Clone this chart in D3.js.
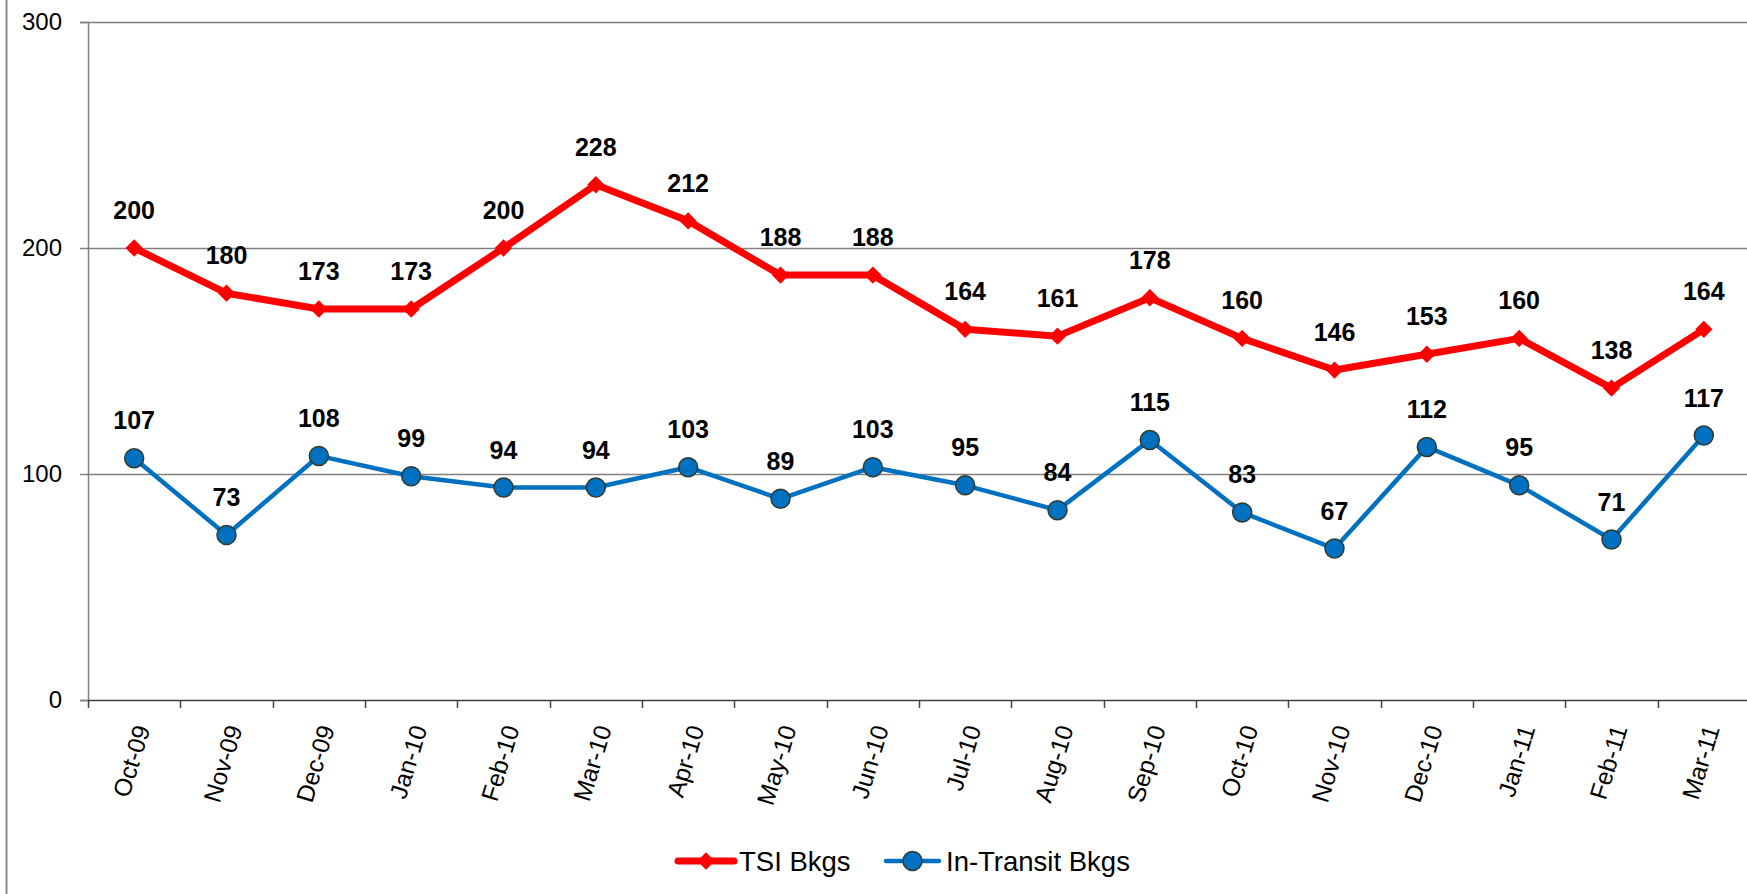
<!DOCTYPE html>
<html>
<head>
<meta charset="utf-8">
<script src="https://cdn.jsdelivr.net/npm/d3@7"></script>
<style>
  body { margin: 0; background: #fff; }
  text { font-family: Arial, "Liberation Sans", sans-serif; }
</style>
</head>
<body>
<svg id="chart" width="1747" height="894"></svg>
<script>
var months = ["Oct-09", "Nov-09", "Dec-09", "Jan-10", "Feb-10", "Mar-10", "Apr-10", "May-10", "Jun-10",
  "Jul-10", "Aug-10", "Sep-10", "Oct-10", "Nov-10", "Dec-10", "Jan-11", "Feb-11", "Mar-11"];
var tsiBkgs = [200, 180, 173, 173, 200, 228, 212, 188, 188, 164, 161, 178, 160, 146, 153, 160, 138, 164];
var transitBkgs = [107, 73, 108, 99, 94, 94, 103, 89, 103, 95, 84, 115, 83, 67, 112, 95, 71, 117];
var yTicks = [0, 100, 200, 300];
var seriesNames = ["TSI Bkgs", "In-Transit Bkgs"];

var svg = d3.select("#chart");

// plot area
var plotLeft = 88, plotRight = 1750, plotTop = 22, plotBottom = 700;

var x = d3.scaleBand().domain(months).range([plotLeft, plotRight]);
var y = d3.scaleLinear().domain([0, 300]).range([plotBottom, plotTop]);

// outer frame line on the left
svg.append("line")
  .attr("x1", 6.5).attr("x2", 6.5).attr("y1", 0).attr("y2", 894)
  .attr("stroke", "#8c8c8c").attr("stroke-width", 2);

// gridlines
svg.append("g").selectAll("line").data(yTicks.filter(function (d) { return d > 0; }))
  .enter().append("line")
  .attr("x1", plotLeft).attr("x2", plotRight)
  .attr("y1", function (d) { return Math.round(y(d)) + 0.5; })
  .attr("y2", function (d) { return Math.round(y(d)) + 0.5; })
  .attr("stroke", "#808080").attr("stroke-width", 1.5);

// axis y
var yAxis = d3.axisLeft(y).tickValues(yTicks).tickSize(8).tickPadding(18);
var gy = svg.append("g").attr("transform", "translate(" + plotLeft + ",0)").call(yAxis);
gy.select(".domain").attr("stroke", "#808080").attr("stroke-width", 1.5);
gy.selectAll(".tick line").attr("stroke", "#808080").attr("stroke-width", 1.5);
gy.selectAll("text").attr("font-size", 24).attr("fill", "#000")
  .style("font-family", "Arial, 'Liberation Sans', sans-serif");

// axis x
var xAxis = d3.axisBottom(x).tickSize(0).tickFormat("");
var gx = svg.append("g").attr("transform", "translate(0," + plotBottom + ")").call(xAxis);
gx.select(".domain").attr("stroke", "#404040").attr("stroke-width", 1.5);
gx.selectAll(".tick").remove();

// category boundary ticks
svg.append("g").selectAll("line").data(months)
  .enter().append("line")
  .attr("x1", function (d) { return Math.round(x(d)) + 0.5; })
  .attr("x2", function (d) { return Math.round(x(d)) + 0.5; })
  .attr("y1", plotBottom).attr("y2", plotBottom + 8)
  .attr("stroke", "#404040").attr("stroke-width", 1.5);

// x labels, slanted
svg.append("g").selectAll("text").data(months)
  .enter().append("text")
  .attr("transform", function (d) {
    return "translate(" + (x(d) + x.bandwidth() / 2 + 8) + "," + (plotBottom + 26) + ") rotate(-73)";
  })
  .attr("text-anchor", "end")
  .attr("dy", "0.35em")
  .attr("font-size", 24.5)
  .text(function (d) { return d; });

var cx = function (d, i) { return x(months[i]) + x.bandwidth() / 2; };

var line = d3.line()
  .x(function (d, i) { return cx(d, i); })
  .y(function (d) { return y(d); });

// TSI series
svg.append("path").datum(tsiBkgs)
  .attr("d", line).attr("fill", "none")
  .attr("stroke", "#ff0000").attr("stroke-width", 7).attr("stroke-linejoin", "round");

var diamond = d3.symbol().type(d3.symbolSquare).size(150);
svg.append("g").selectAll("path").data(tsiBkgs)
  .enter().append("path")
  .attr("d", diamond)
  .attr("transform", function (d, i) { return "translate(" + cx(d, i) + "," + y(d) + ") rotate(45)"; })
  .attr("fill", "#ff0000");

// In-Transit series
svg.append("path").datum(transitBkgs)
  .attr("d", line).attr("fill", "none")
  .attr("stroke", "#0070c0").attr("stroke-width", 4.5).attr("stroke-linejoin", "round");

svg.append("g").selectAll("circle").data(transitBkgs)
  .enter().append("circle")
  .attr("cx", function (d, i) { return cx(d, i); })
  .attr("cy", function (d) { return y(d); })
  .attr("r", 9.5)
  .attr("fill", "#0070c0").attr("stroke", "#2f3b2f").attr("stroke-width", 1.5);

// data labels
[tsiBkgs, transitBkgs].forEach(function (series) {
  svg.append("g").selectAll("text").data(series)
    .enter().append("text")
    .attr("x", function (d, i) { return cx(d, i); })
    .attr("y", function (d) { return y(d) - 29; })
    .attr("text-anchor", "middle")
    .attr("font-size", 25)
    .attr("font-weight", "bold")
    .text(function (d) { return d; });
});

// legend
var legY = 861;
var leg = svg.append("g");
leg.append("line").attr("x1", 678).attr("x2", 734).attr("y1", legY).attr("y2", legY)
  .attr("stroke", "#ff0000").attr("stroke-width", 7).attr("stroke-linecap", "round");
leg.append("path").attr("d", diamond)
  .attr("transform", "translate(706," + legY + ") rotate(45)").attr("fill", "#ff0000");
leg.append("text").attr("x", 739).attr("y", legY).attr("dy", "0.36em")
  .attr("font-size", 27.5).text(seriesNames[0]);

leg.append("line").attr("x1", 886).attr("x2", 939).attr("y1", legY).attr("y2", legY)
  .attr("stroke", "#0070c0").attr("stroke-width", 4.5).attr("stroke-linecap", "round");
leg.append("circle").attr("cx", 912.5).attr("cy", legY).attr("r", 9.5)
  .attr("fill", "#0070c0").attr("stroke", "#2f3b2f").attr("stroke-width", 1.5);
leg.append("text").attr("x", 946).attr("y", legY).attr("dy", "0.36em")
  .attr("font-size", 27.5).text(seriesNames[1]);
</script>
</body>
</html>
